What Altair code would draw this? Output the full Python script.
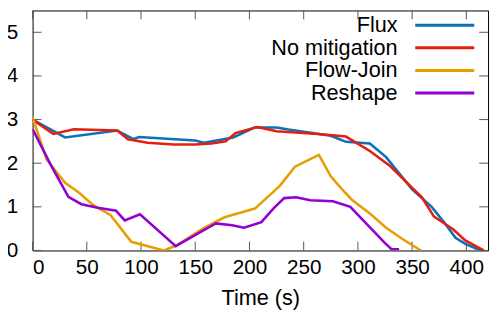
import altair as alt
import pandas as pd

# ---- data ----
series_names = ["Flux", "No mitigation", "Flow-Join", "Reshape"]
series_colors = ["#0b72b9", "#e51e10", "#e69f00", "#9400d3"]

flux_t = [0, 30, 78, 93, 98, 150, 158, 185, 205, 225, 236, 275, 289, 311, 326, 350, 368, 380, 390, 399, 413]
flux_v = [3.0, 2.59, 2.75, 2.55, 2.6, 2.52, 2.47, 2.59, 2.82, 2.82, 2.77, 2.63, 2.49, 2.45, 2.14, 1.4, 1.0, 0.63, 0.29, 0.15, 0.0]

nomit_t = [0, 19, 38, 78, 88, 106, 130, 150, 165, 178, 187, 207, 225, 263, 289, 311, 329, 359, 370, 388, 399, 416]
nomit_v = [3.0, 2.67, 2.78, 2.75, 2.55, 2.47, 2.43, 2.43, 2.45, 2.5, 2.69, 2.83, 2.73, 2.67, 2.61, 2.28, 1.95, 1.22, 0.78, 0.48, 0.23, 0.0]

fj_t = [0, 13, 30, 42, 56, 72, 91, 121, 133, 157, 177, 205, 228, 242, 264, 275, 285, 295, 311, 326, 340, 358]
fj_v = [3.05, 2.08, 1.55, 1.34, 1.04, 0.81, 0.2, 0.0, 0.12, 0.5, 0.76, 0.96, 1.48, 1.92, 2.19, 1.7, 1.41, 1.15, 0.85, 0.52, 0.28, 0.0]

rs_t = [0, 17, 33, 45, 60, 77, 85, 99, 132, 151, 169, 184, 195, 211, 222, 232, 243, 256, 277, 293, 325, 331, 338]
rs_v = [2.78, 1.95, 1.23, 1.06, 0.98, 0.91, 0.69, 0.83, 0.1, 0.37, 0.62, 0.58, 0.52, 0.65, 0.96, 1.2, 1.22, 1.15, 1.13, 1.0, 0.17, 0.03, 0.03]

x_ticks = [0, 50, 100, 150, 200, 250, 300, 350, 400]
y_ticks = [0, 1, 2, 3, 4, 5]
x_domain = [0, 420]
y_domain = [0, 5.5]

rows = []
for name, ts, vs in [("Flux", flux_t, flux_v), ("No mitigation", nomit_t, nomit_v),
                     ("Flow-Join", fj_t, fj_v), ("Reshape", rs_t, rs_v)]:
    for t, v in zip(ts, vs):
        rows.append({"series": name, "t": t, "v": v})
df = pd.DataFrame(rows)
xt = pd.DataFrame({"t": x_ticks})
yt = pd.DataFrame({"v": y_ticks})

W, H = 463, 244
FONT = "Liberation Sans"
TICK = 9
tick_color = "#555555"

xs = alt.Scale(domain=x_domain, nice=False, zero=False)
ys = alt.Scale(domain=y_domain, nice=False, zero=False)

lines = alt.Chart(df).mark_line(strokeWidth=2.6, clip=True).encode(
    x=alt.X("t:Q", scale=xs, axis=alt.Axis(values=x_ticks, title="Time (s)", labelPadding=6,
                                            titlePadding=11, format="d")),
    y=alt.Y("v:Q", scale=ys, axis=alt.Axis(values=y_ticks, title=None, labelPadding=15, format="d")),
    color=alt.Color("series:N", scale=alt.Scale(domain=series_names, range=series_colors),
                    legend=alt.Legend(orient="none", legendX=408, legendY=4, title=None,
                                      symbolType="M-4,0H4", symbolSize=225, symbolStrokeWidth=3,
                                      labelAlign="right", labelOffset={"expr": "-59"}, labelFontSize=22,
                                      labelFont=FONT, labelColor="black", labelLimit=0,
                                      rowPadding=1, padding=0)),
    detail="series:N",
)

xb = alt.Chart(xt).mark_rule(color=tick_color, strokeWidth=1).encode(
    x=alt.X("t:Q", scale=xs), y=alt.value(H), y2=alt.value(H - TICK))
xtop = alt.Chart(xt).mark_rule(color=tick_color, strokeWidth=1).encode(
    x=alt.X("t:Q", scale=xs), y=alt.value(0), y2=alt.value(TICK))
yl = alt.Chart(yt).mark_rule(color=tick_color, strokeWidth=1).encode(
    y=alt.Y("v:Q", scale=ys), x=alt.value(0), x2=alt.value(TICK))
yr = alt.Chart(yt).mark_rule(color=tick_color, strokeWidth=1).encode(
    y=alt.Y("v:Q", scale=ys), x=alt.value(W), x2=alt.value(W - TICK))

chart = alt.layer(xb, xtop, yl, yr, lines).properties(
    width=W, height=H,
    autosize=alt.AutoSizeParams(type="none"),
    padding={"left": 25, "top": 0, "right": 2, "bottom": 58},
).configure_view(stroke="black", strokeWidth=1).configure_axis(
    domain=False, ticks=False, grid=False,
    labelFont=FONT, labelFontSize=21, labelColor="black",
    titleFont=FONT, titleFontSize=22, titleColor="black", titleFontWeight="normal",
)

chart.save("out.html", embed_options={"renderer": "svg", "actions": False})
